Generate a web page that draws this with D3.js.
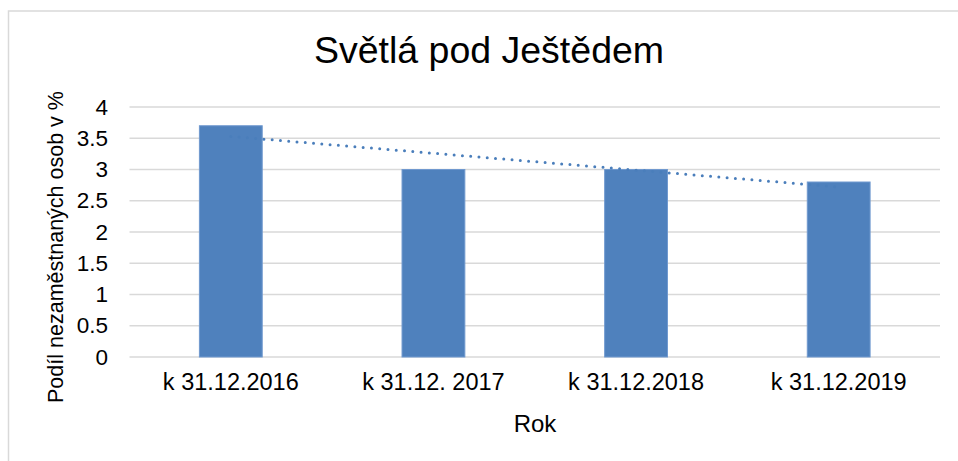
<!DOCTYPE html>
<html>
<head>
<meta charset="utf-8">
<script src="https://cdn.jsdelivr.net/npm/d3@7"></script>
<style>
  html, body { margin: 0; padding: 0; background: #fff; }
  svg { display: block; font-family: "Liberation Sans", Arial, sans-serif; }
</style>
</head>
<body>
<svg id="chart" width="958" height="461"></svg>
<script>
const categories = ["k 31.12.2016", "k 31.12. 2017", "k 31.12.2018", "k 31.12.2019"];
const values = [3.7, 3.0, 3.0, 2.8];
const yTicks = [0, 0.5, 1, 1.5, 2, 2.5, 3, 3.5, 4];
const yTickLabels = ["0", "0.5", "1", "1.5", "2", "2.5", "3", "3.5", "4"];
const title = "Světlá pod Ještědem";
const yTitle = "Podíl nezaměstnaných osob v %";
const xTitle = "Rok";

const svg = d3.select("#chart");
svg.append("rect").attr("width", 958).attr("height", 461).attr("fill", "#fff");
// chart area border
svg.append("rect")
  .attr("x", 8.5).attr("y", 11).attr("width", 980).attr("height", 500)
  .attr("fill", "none").attr("stroke", "#d9d9d9").attr("stroke-width", 1.5);

const x = d3.scaleBand().domain(categories).range([129.5, 940]).padding(0);
const y = d3.scaleLinear().domain([0, 4]).range([357, 107]);
const barW = x.bandwidth() * 0.31;

// gridlines
svg.append("g").selectAll("line").data(yTicks).join("line")
  .attr("x1", 129.5).attr("x2", 940)
  .attr("y1", d => y(d)).attr("y2", d => y(d))
  .attr("stroke", "#d9d9d9").attr("stroke-width", 1.5);

// y axis labels
const yAxis = d3.axisLeft(y).tickValues(yTicks).tickFormat((d, i) => yTickLabels[i]).tickSize(0).tickPadding(0);
const gy = svg.append("g").attr("transform", "translate(108,0)").call(yAxis);
gy.select(".domain").remove();
gy.selectAll("text").attr("font-size", 22.5).attr("fill", "#000")
  .attr("font-family", "'Liberation Sans', Arial, sans-serif");

// x axis labels
const xAxis = d3.axisBottom(x).tickSize(0).tickPadding(0);
const gx = svg.append("g").attr("transform", "translate(0,373)").call(xAxis);
gx.select(".domain").remove();
gx.selectAll("text").attr("font-size", 23.5).attr("fill", "#000")
  .attr("font-family", "'Liberation Sans', Arial, sans-serif");

// bars
svg.append("g").selectAll("rect").data(values).join("rect")
  .attr("x", (d, i) => x(categories[i]) + x.bandwidth() / 2 - barW / 2)
  .attr("y", d => y(d))
  .attr("width", barW)
  .attr("height", d => y(0) - y(d))
  .attr("fill", "#4f81bd")
  .attr("stroke", "#7099cf").attr("stroke-width", 1);

// linear trendline (least squares fit of the series)
const n = values.length;
const xs = values.map((d, i) => i + 1);
const mx = d3.mean(xs), my = d3.mean(values);
const slope = d3.sum(xs.map((xi, i) => (xi - mx) * (values[i] - my))) / d3.sum(xs.map(xi => (xi - mx) ** 2));
const icpt = my - slope * mx;
const trend = [1, n].map(t => ({ cx: x(categories[t - 1]) + x.bandwidth() / 2, v: icpt + slope * t }));
svg.append("path")
  .attr("d", d3.line().x(d => d.cx).y(d => y(d.v))(trend))
  .attr("fill", "none").attr("stroke", "#4a7ebb").attr("stroke-width", 3)
  .attr("stroke-dasharray", "0 8.3").attr("stroke-linecap", "round");

// titles
svg.append("text").attr("x", 489).attr("y", 63).attr("text-anchor", "middle")
  .attr("font-size", 37.5).attr("fill", "#000").text(title);
svg.append("text").attr("transform", "translate(63,247) rotate(-90)")
  .attr("text-anchor", "middle").attr("font-size", 21.5).attr("fill", "#000").text(yTitle);
svg.append("text").attr("x", 535).attr("y", 432).attr("text-anchor", "middle")
  .attr("font-size", 24).attr("fill", "#000").text(xTitle);
</script>
</body>
</html>
